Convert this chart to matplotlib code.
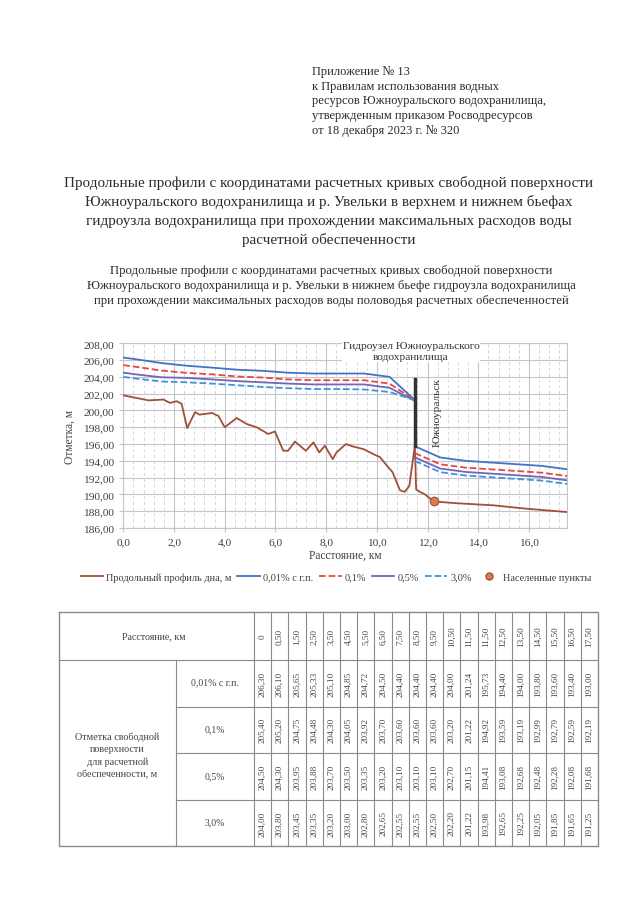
import numpy as np
import matplotlib
matplotlib.use("Agg")
import matplotlib.pyplot as plt
from matplotlib.lines import Line2D

plt.rcParams['font.family'] = ['Liberation Serif', 'DejaVu Serif']

# расстояния расчетных створов, км (11,50 дважды: верхний и нижний бьеф)
dist = [0, 0.5, 1.5, 2.5, 3.5, 4.5, 5.5, 6.5, 7.5, 8.5, 9.5, 10.5, 11.5,
        11.5, 12.5, 13.5, 14.5, 15.5, 16.5, 17.5]

# отметки свободной поверхности, м
h001 = [206.30, 206.10, 205.65, 205.33, 205.10, 204.85, 204.72, 204.50, 204.40, 204.40,
        204.40, 204.00, 201.24, 195.73, 194.40, 194.00, 193.80, 193.60, 193.40, 193.00]
h01 = [205.40, 205.20, 204.75, 204.48, 204.30, 204.05, 203.92, 203.70, 203.60, 203.60,
       203.60, 203.20, 201.22, 194.92, 193.59, 193.19, 192.99, 192.79, 192.59, 192.19]
h05 = [204.50, 204.30, 203.95, 203.88, 203.70, 203.50, 203.35, 203.20, 203.10, 203.10,
       203.10, 202.70, 201.15, 194.41, 193.08, 192.68, 192.48, 192.28, 192.08, 191.68]
h3 = [204.00, 203.80, 203.45, 203.35, 203.20, 203.00, 202.80, 202.65, 202.55, 202.55,
      202.50, 202.20, 201.22, 193.98, 192.65, 192.25, 192.05, 191.85, 191.65, 191.25]

# продольный профиль дна
bed_x = [0, 0.5, 1.0, 1.58, 1.84, 2.1, 2.3, 2.52, 2.83, 3.0, 3.5, 3.75, 4.0, 4.47, 4.86,
         5.26, 5.72, 5.98, 6.31, 6.5, 6.77, 7.2, 7.5, 7.73, 7.95, 8.26, 8.41, 8.78, 9.07,
         9.47, 9.93, 10.12, 10.39, 10.62, 10.91, 11.1, 11.28, 11.5, 11.55, 11.7, 11.9,
         12.1, 12.29, 13.15, 14.6, 15.9, 17.5]
bed_y = [201.8, 201.5, 201.2, 201.3, 200.9, 201.1, 200.8, 197.9, 199.8, 199.5, 199.7,
         199.35, 198.0, 199.1, 198.4, 198.0, 197.2, 197.5, 195.2, 195.2, 196.3, 195.2,
         196.2, 195.0, 195.8, 194.2, 195.0, 196.0, 195.7, 195.4, 194.7, 194.45, 193.45,
         192.65, 190.5, 190.3, 191.0, 195.8, 190.6, 190.3, 190.0, 189.5, 189.15, 188.95,
         188.7, 188.3, 187.9]

town_x = [12.25]
town_y = [189.25]
dam_x = 11.5
dam_y = [195.8, 203.8]

series = [
    ("0,01% с г.п.", h001, "#4472c4", "-"),
    ("0,1%", h01, "#e8473f", "--"),
    ("0,5%", h05, "#7465b5", "-"),
    ("3,0%", h3, "#3f93dc", "--"),
]
row_names = ["0,01% с г.п.", "0,1%", "0,5%", "3,0%"]

txt = "#2a2a2a"
fig = plt.figure(figsize=(6.4, 9.2), dpi=100)

# страница в пиксельных координатах
page = fig.add_axes([0, 0, 1, 1])
page.set_xlim(0, 640)
page.set_ylim(920, 0)
page.axis("off")

header = ["Приложение № 13",
          "к Правилам использования водных",
          "ресурсов Южноуральского водохранилища,",
          "утвержденным приказом Росводресурсов",
          "от 18 декабря 2023 г. № 320"]
for i, s in enumerate(header):
    page.text(312, 72 + i * 14.7, s, fontsize=9.0, color=txt, va="center", ha="left")

title = ["Продольные профили с координатами расчетных кривых свободной поверхности",
         "Южноуральского водохранилища и р. Увельки в верхнем и нижнем бьефах",
         "гидроузла водохранилища при прохождении максимальных расходов воды",
         "расчетной обеспеченности"]
for i, s in enumerate(title):
    page.text(329, 183 + i * 19, s, fontsize=10.9, color=txt, va="center", ha="center")

sub = ["Продольные профили с координатами расчетных кривых свободной поверхности",
       "Южноуральского водохранилища и р. Увельки в нижнем бьефе гидроузла водохранилища",
       "при прохождении максимальных расходов воды половодья расчетных обеспеченностей"]
for i, s in enumerate(sub):
    page.text(331, 271 + i * 15, s, fontsize=9.2, color=txt, va="center", ha="center")

# таблица
gc = "#8a8a8a"
tl, tr, tt, tb = 59, 598, 613, 847
c1, c2 = 175.7, 254
rows = [613, 661, 707.5, 754, 801, 847]
ncol = len(dist)
cw = (tr - c2) / ncol
page.plot([tl, tr, tr, tl, tl], [tt, tt, tb, tb, tt], color=gc, lw=1.0)
page.plot([tl, tr], [rows[1], rows[1]], color=gc, lw=0.8)
for r in rows[2:-1]:
    page.plot([c1, tr], [r, r], color=gc, lw=0.8)
page.plot([c1, c1], [rows[1], tb], color=gc, lw=0.8)
for j in range(ncol):
    xx = c2 + j * cw
    page.plot([xx, xx], [tt, tb], color=gc, lw=0.8)

page.text((tl + c2) / 2 - 3, (rows[0] + rows[1]) / 2, "Расстояние, км",
          fontsize=7.2, color="#444", ha="center", va="center")
page.text((tl + c1) / 2, 756, "Отметка свободной\nповерхности\nдля расчетной\nобеспеченности, м",
          fontsize=7.3, color="#444", ha="center", va="center", linespacing=1.45)
for i, nm in enumerate(row_names):
    page.text((c1 + c2) / 2, (rows[i + 1] + rows[i + 2]) / 2 - 1, nm,
              fontsize=7.0, color="#444", ha="center", va="center")

for j, d in enumerate(dist):
    xc = c2 + (j + 0.5) * cw
    lab = "0" if d == 0 else f"{d:.2f}".replace(".", ",")
    page.text(xc, (rows[0] + rows[1]) / 2, lab, rotation=90, fontsize=6.6,
              color="#444", ha="center", va="center")
    for i, (_, vals, _, _) in enumerate(series):
        page.text(xc, (rows[i + 1] + rows[i + 2]) / 2, f"{vals[j]:.2f}".replace(".", ","),
                  rotation=90, fontsize=6.6, color="#444", ha="center", va="center")

# график
ax = fig.add_axes([123.3 / 640, 1 - 529 / 920, (567 - 123.3) / 640, (529 - 344.3) / 920])
ax.set_xlim(0, 17.5)
ax.set_ylim(186, 208)
ax.set_xticks(np.arange(0, 17, 2))
ax.set_xticks(np.arange(0, 17.5, 0.4), minor=True)
ax.set_yticks(np.arange(186, 208.1, 2))
ax.grid(True, which="major", color="#c4c4cc", lw=0.8)
ax.grid(True, which="minor", axis="x", color="#d2d2da", lw=0.6, ls=(0, (4, 3)))
ax.set_axisbelow(True)
for sp in ax.spines.values():
    sp.set_color("#c4c4cc")
    sp.set_linewidth(0.8)
ax.tick_params(which="minor", length=0)
ax.tick_params(which="major", length=3, color="#c4c4cc", labelsize=8.2, labelcolor="#404040")
ax.set_xticklabels([f"{v:.1f}".replace(".", ",") for v in np.arange(0, 17, 2)])
ax.set_yticklabels([f"{v:.2f}".replace(".", ",") for v in np.arange(186, 208.1, 2)])
ax.set_xlabel("Расстояние, км", fontsize=8.3, color="#404040", labelpad=1.8)
ax.set_ylabel("Отметка, м", fontsize=8.3, color="#404040", labelpad=5)

ax.plot(bed_x, bed_y, color="#a0503a", lw=1.3, zorder=3)
for name, vals, col, ls in series:
    ax.plot(dist[:13], vals[:13], color=col, ls=ls, lw=1.3, zorder=3)
    ax.plot(dist[13:], vals[13:], color=col, ls=ls, lw=1.3, zorder=3)
ax.plot([dam_x, dam_x], dam_y, color="#333333", lw=2.5, zorder=4)
ax.scatter(town_x, town_y, s=38, color="#e07b50", edgecolor="#a0503a", lw=0.8, zorder=5)

ax.text(11.35, 207.1, "Гидроузел Южноуральского\nводохранилища", fontsize=8.2,
        color="#303030", ha="center", va="center", linespacing=1.3,
        bbox=dict(facecolor="white", edgecolor="none", pad=0.5), zorder=6, clip_on=False)
ax.text(12.4, 199.9, "Южноуральск", rotation=90, fontsize=8.2, color="#303030",
        ha="center", va="center", zorder=6)

handles = [Line2D([], [], color="#a0503a", lw=1.3)]
labels = ["Продольный профиль дна, м"]
for name, vals, col, ls in series:
    handles.append(Line2D([], [], color=col, ls=ls, lw=1.3))
    labels.append(name)
handles.append(Line2D([], [], marker="o", color="none", markerfacecolor="#e07b50",
                      markeredgecolor="#a0503a", markersize=5))
labels.append("Населенные пункты")
fig.legend(handles, labels, loc="center", bbox_to_anchor=(0.525, 1 - 578 / 920), ncol=6,
           frameon=False, fontsize=7.4, handlelength=2.2, handletextpad=0.3,
           columnspacing=0.55, labelcolor="#404040")

fig.savefig("out.png", dpi=100, facecolor="white")
